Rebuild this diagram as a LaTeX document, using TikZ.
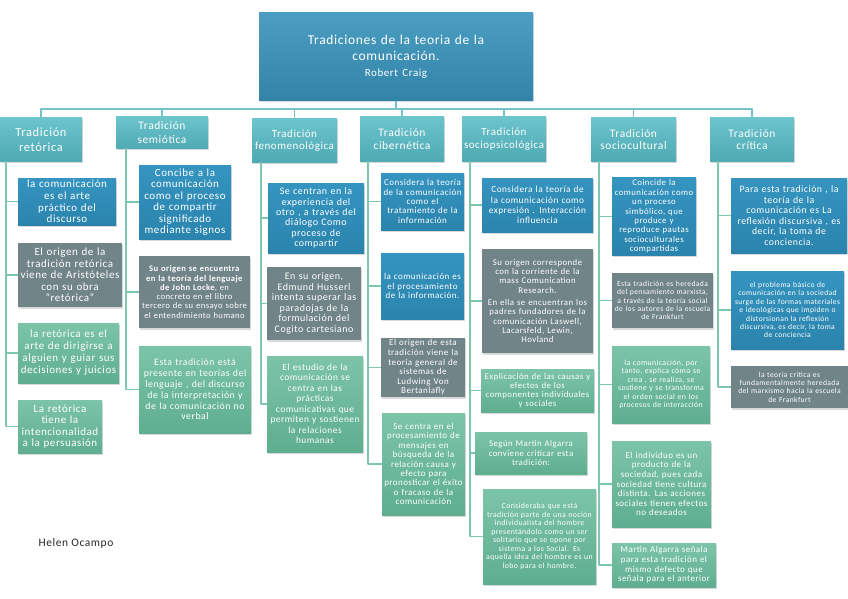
\documentclass[tikz,border=0pt]{standalone}
\usepackage{fontspec}
\setmainfont{Carlito}[LetterSpace=5]
\usetikzlibrary{shadows}
\definecolor{raizA}{HTML}{4B9DC2}
\definecolor{raizB}{HTML}{3183A8}
\definecolor{tradA}{HTML}{6CC4CC}
\definecolor{tradB}{HTML}{4FAAB4}
\definecolor{azulA}{HTML}{3594C0}
\definecolor{azulB}{HTML}{2A84AD}
\definecolor{grisC}{HTML}{718487}
\definecolor{verdeA}{HTML}{7CC4A8}
\definecolor{verdeB}{HTML}{5FAE90}
\definecolor{busC}{HTML}{72C4CA}
\definecolor{ramaC}{HTML}{7CC7AE}
\newcommand{\tam}[2]{\fontsize{#1}{#2}\selectfont}
\begin{document}
\begin{tikzpicture}[x=1pt, y=-1pt, line join=round,
	caja/.style={rectangle, text=white, align=center, inner sep=2pt, drop shadow={opacity=.3, shadow xshift=1pt, shadow yshift=-1.5pt}},
	raiz/.style={caja, top color=raizA, bottom color=raizB},
	trad/.style={caja, top color=tradA, bottom color=tradB},
	azul/.style={caja, top color=azulA, bottom color=azulB},
	gris/.style={caja, fill=grisC},
	verde/.style={caja, top color=verdeA, bottom color=verdeB},
	bus/.style={draw=busC, line width=1.6pt},
	rama/.style={draw=ramaC, line width=1.4pt}]
	\useasboundingbox (0,0) rectangle (848,599);
	% Titulo
	\node[raiz, minimum width=274, text width=268pt, minimum height=88, font=\tam{13.5}{15.3}] (raiz) at (396,57) {Tradiciones de la teoria de la\\ comunicación.\\[1pt] {\tam{11}{13}Robert Craig}};
	% Tradiciones
	\node[trad, minimum width=82, text width=78pt, minimum height=43, font=\tam{12.5}{15}] (ret) at (41,139.5) {Tradición\\ retórica};
	\node[trad, minimum width=92, text width=88pt, minimum height=31, font=\tam{11.5}{13.3}] (sem) at (162,132.5) {Tradición\\ semiótica};
	\node[trad, minimum width=85, text width=81pt, minimum height=43, font=\tam{11}{12}] (fen) at (294.5,140.5) {Tradición\\ fenomenológica};
	\node[trad, minimum width=84, text width=80pt, minimum height=44, font=\tam{11.5}{12.7}] (cib) at (402,139) {Tradición\\ cibernética};
	\node[trad, minimum width=84, text width=80pt, minimum height=44, font=\tam{11}{12.3}] (soc) at (504,139) {Tradición\\ sociopsicológica};
	\node[trad, minimum width=85, text width=81pt, minimum height=43, font=\tam{11.5}{12.7}] (scu) at (633.5,139.5) {Tradición\\ sociocultural};
	\node[trad, minimum width=84, text width=80pt, minimum height=43, font=\tam{11.5}{12.7}] (cri) at (752,139.5) {Tradición\\ crítica};
	\coordinate (eje) at (396,109);
	\draw[bus] (raiz.south) -- (eje);
	\foreach \t in {ret,sem,fen,cib,soc,scu,cri}
		\draw[bus] (eje) -| (\t.north);
	% Retorica
	\node[azul, minimum width=98, text width=94pt, minimum height=47, font=\tam{11}{11.7}] (ret1) at (67,201.5) {la comunicación\\ es el arte\\ práctico del\\ discurso};
	\node[gris, minimum width=104, text width=100pt, minimum height=64, font=\tam{11}{11.5}] (ret2) at (70,275) {El origen de la\\ tradición retórica\\ viene de Aristóteles\\ con su obra\\ \symbol{34}retórica\symbol{34}};
	\node[verde, minimum width=101, text width=97pt, minimum height=60, font=\tam{11}{12}] (ret3) at (68.5,353) {la retórica es el\\ arte de dirigirse a\\ alguien y guiar sus\\ decisiones y juicios};
	\node[verde, minimum width=84, text width=80pt, minimum height=53, font=\tam{11}{11.3}] (ret4) at (60,426.5) {La retórica\\ tiene la\\ intencionalidad\\ a la persuasión};
	% Semiotica
	\node[azul, minimum width=92, text width=88pt, minimum height=74, font=\tam{11}{11.5}] (sem1) at (185,202) {Concibe a la\\ comunicación\\ como el proceso\\ de compartir\\ significado\\ mediante signos};
	\node[gris, minimum width=111, text width=107pt, minimum height=72, font=\tam{8.6}{9.3}] (sem2) at (194.5,292) {\textbf{Su origen se encuentra}\\ \textbf{en la teoría del lenguaje}\\ \textbf{de John Locke}, en\\ concreto en el libro\\ tercero de su ensayo sobre\\ el entendimiento humano};
	\node[verde, minimum width=112, text width=108pt, minimum height=87, font=\tam{9.8}{10.8}] (sem3) at (195,389.5) {Esta tradición está\\ presente en teorías del\\ lenguaje , del discurso\\ de la interpretación y\\ de la comunicación no\\ verbal};
	% Fenomenologica
	\node[azul, minimum width=96, text width=92pt, minimum height=70, font=\tam{10}{10.3}] (fen1) at (316,218) {Se centran en la\\ experiencia del\\ otro , a través del\\ diálogo Como\\ proceso de\\ compartir};
	\node[gris, minimum width=94, text width=90pt, minimum height=73, font=\tam{10}{10.5}] (fen2) at (314,303.5) {En su origen,\\ Edmund Husserl\\ intenta superar las\\ paradojas de la\\ formulación del\\ Cogito cartesiano};
	\node[verde, minimum width=96, text width=92pt, minimum height=96, font=\tam{9.4}{10.5}] (fen3) at (315,404) {El estudio de la\\ comunicación se\\ centra en las\\ prácticas\\ comunicativas que\\ permiten y sostienen\\ la relaciones\\ humanas};
	% Cibernetica
	\node[azul, minimum width=83, text width=79pt, minimum height=57, font=\tam{9}{9.4}] (cib1) at (422.5,201.5) {Considera la teoría\\ de la comunicación\\ como el\\ tratamiento de la\\ información};
	\node[azul, minimum width=83, text width=79pt, minimum height=66, font=\tam{9}{9.2}] (cib2) at (422.5,286) {la comunicación es\\ el procesamiento\\ de la información.};
	\node[gris, minimum width=84, text width=80pt, minimum height=59, font=\tam{9}{9.6}] (cib3) at (423,367.5) {El origen de esta\\ tradición viene la\\ teoría general de\\ sistemas de\\ Ludwing Von\\ Bertanlafly};
	\node[verde, minimum width=83, text width=79pt, minimum height=102, font=\tam{9}{9.4}] (cib4) at (423.5,464) {Se centra en el\\ procesamiento de\\ mensajes en\\ búsqueda de la\\ relación causa y\\ efecto para\\ pronosticar el éxito\\ o fracaso de la\\ comunicación};
	% Sociopsicologica
	\node[azul, minimum width=111, text width=107pt, minimum height=54, font=\tam{9.3}{10.2}] (soc1) at (537.5,205) {Considera la teoría de\\ la comunicación como\\ expresión . Interacción\\ influencia};
	\node[gris, minimum width=111, text width=107pt, minimum height=104, font=\tam{8.8}{9.3}] (soc2) at (537.5,301) {Su origen corresponde\\ con la corriente de la\\ mass Comunication\\ Research.\\[3pt] En ella se encuentran los\\ padres fundadores de la\\ comunicación Laswell,\\ Lacarsfeld, Lewin,\\ Hovland};
	\node[verde, minimum width=113, text width=109pt, minimum height=43, font=\tam{8.8}{9.2}] (soc3) at (537.5,390.5) {Explicación de las causas y\\ efectos de los\\ componentes individuales\\ y sociales};
	\node[verde, minimum width=112, text width=108pt, minimum height=42, font=\tam{8.8}{9.3}] (soc4) at (531,453) {Según Martin Algarra\\ conviene criticar esta\\ tradición:};
	\node[verde, minimum width=113, text width=109pt, minimum height=95, font=\tam{7.8}{8.5}] (soc5) at (539.5,536.5) {Consideraba que está\\ tradición parte de una noción\\ individualista del hombre\\ presentándolo como un ser\\ solitario que se opone por\\ sistema a los Social. Es\\ aquella idea del hombre es un\\ lobo para el hombre.};
	% Sociocultural
	\node[azul, minimum width=84, text width=80pt, minimum height=77, font=\tam{8.8}{9.4}] (scu1) at (654,216.5) {Coincide la\\ comunicación como\\ un proceso\\ simbólico, que\\ produce y\\ reproduce pautas\\ socioculturales\\ compartidas};
	\node[gris, minimum width=101, text width=97pt, minimum height=55, font=\tam{7.6}{8.2}] (scu2) at (662.5,300.5) {Esta tradición es heredada\\ del pensamiento marxista,\\ a través de la teoría social\\ de los autores de la escuela\\ de Frankfurt};
	\node[verde, minimum width=98, text width=94pt, minimum height=77, font=\tam{7.8}{8.5}] (scu3) at (661,384.5) {la comunicación, por\\ tanto, explica cómo se\\ crea , se realiza, se\\ sostiene y se transforma\\ el orden social en los\\ procesos de interacción};
	\node[verde, minimum width=99, text width=95pt, minimum height=86, font=\tam{9}{9.6}] (scu4) at (661.5,484) {El individuo es un\\ producto de la\\ sociedad, pues cada\\ sociedad tiene cultura\\ distinta. Las acciones\\ sociales tienen efectos\\ no deseados};
	\node[verde, minimum width=104, text width=100pt, minimum height=44, font=\tam{9}{9.7}] (scu5) at (664,565) {Martin Algarra señala\\ para esta tradición el\\ mismo defecto que\\ señala para el anterior};
	% Critica
	\node[azul, minimum width=116, text width=112pt, minimum height=75, font=\tam{9.8}{10.5}] (cri1) at (789,215.5) {Para esta tradición , la\\ teoría de la\\ comunicación es La\\ reflexión discursiva , es\\ decir, la toma de\\ conciencia.};
	\node[azul, minimum width=113, text width=109pt, minimum height=78, font=\tam{7.6}{8.4}] (cri2) at (787.5,310) {el problema básico de\\ comunicación en la sociedad\\ surge de las formas materiales\\ e ideológicas que impiden o\\ distorsionan la reflexión\\ discursiva, es decir, la toma\\ de conciencia};
	\node[gris, minimum width=117, text width=113pt, minimum height=42, font=\tam{7.6}{8.3}] (cri3) at (789.5,387) {la teoría crítica es\\ fundamentalmente heredada\\ del marxismo hacia la escuela\\ de Frankfurt};
	% Ramas
	\foreach \t/\n/\d in {ret/4/6, sem/3/10, fen/3/9, cib/4/8, soc/5/8, scu/5/8, cri/3/8}
		\foreach \c in {1,...,\n}
			\draw[rama] ([xshift=\d pt]\t.south west) |- (\t\c.west);
	\node[text=black!85, font=\tam{11.5}{13}] (autora) at (76,543) {Helen Ocampo};
\end{tikzpicture}
\end{document}
